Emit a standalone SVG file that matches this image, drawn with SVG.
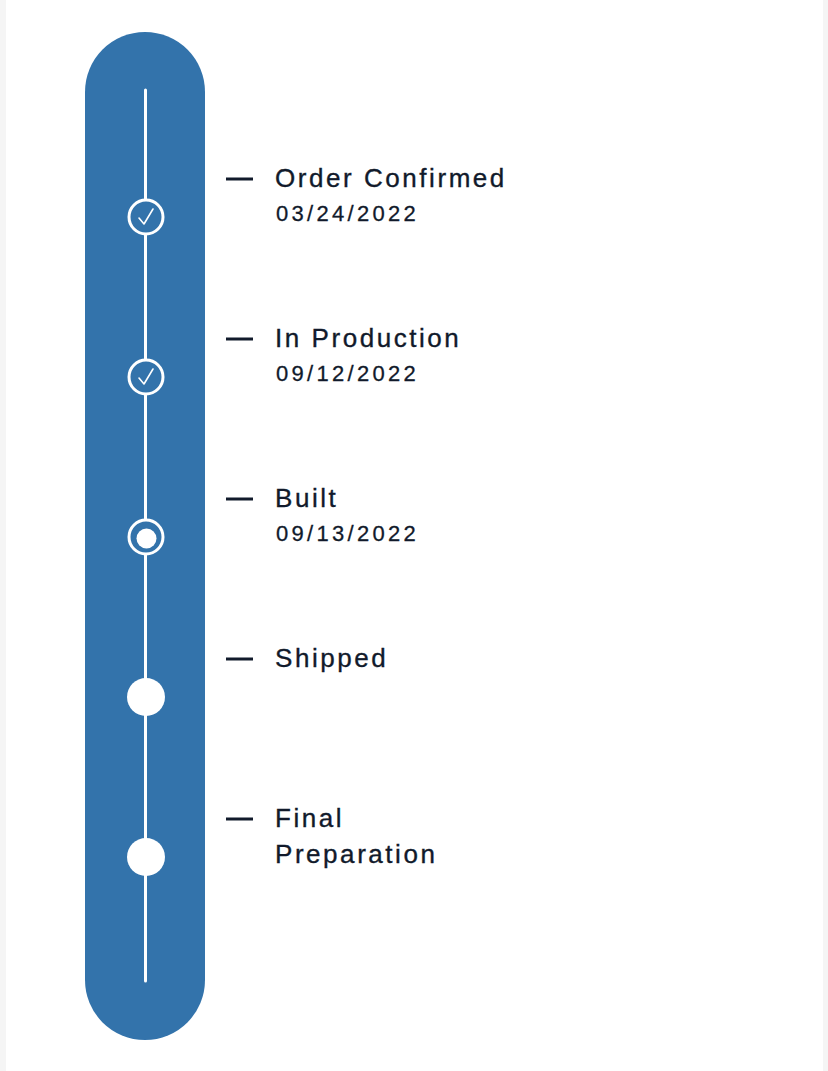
<svg xmlns="http://www.w3.org/2000/svg" width="828" height="1071" viewBox="0 0 828 1071">
<style>
.title{font-family:"Liberation Sans",Arial,sans-serif;font-size:26px;fill:#111a2b;stroke:#111a2b;stroke-width:0.35px;letter-spacing:2.55px}
.date{font-family:"Liberation Sans",Arial,sans-serif;font-size:22px;fill:#111a2b;stroke:#111a2b;stroke-width:0.3px;letter-spacing:3.3px}
.dash{stroke:#111a2b;stroke-width:3}
.ring{fill:#3373ab;stroke:#fff;stroke-width:3}
.dot{fill:#fff}
.check{fill:none;stroke:#fff;stroke-width:1.6;stroke-linecap:round;stroke-linejoin:round}
</style>
<rect x="0" y="0" width="828" height="1071" fill="#fff"/>
<rect x="0" y="0" width="6" height="1071" fill="#f5f5f5"/>
<rect x="823" y="0" width="5" height="1071" fill="#f5f5f5"/>
<g id="track">
<rect x="85" y="32" width="120" height="1008" rx="60" ry="60" fill="#3373ab"/>
</g>
<g id="connectors">
<line x1="145.5" y1="90" x2="145.5" y2="981" stroke="#fff" stroke-width="3" stroke-linecap="round"/>
</g>
<g id="step-order-confirmed">
<circle class="ring" cx="146" cy="217" r="17"/>
<path class="check" d="M139 218 L144 224 L153 209"/>
<line class="dash" x1="226" y1="179" x2="253" y2="179"/>
<text class="title" x="275" y="187">Order Confirmed</text>
<text class="date" x="276" y="221">03/24/2022</text>
</g>
<g id="step-in-production">
<circle class="ring" cx="146" cy="377" r="17"/>
<path class="check" d="M139 378 L144 384 L153 369"/>
<line class="dash" x1="226" y1="339" x2="253" y2="339"/>
<text class="title" x="275" y="347">In Production</text>
<text class="date" x="276" y="381">09/12/2022</text>
</g>
<g id="step-built">
<circle class="ring" cx="146" cy="537" r="17"/>
<circle class="dot" cx="146.5" cy="538.5" r="10"/>
<line class="dash" x1="226" y1="499" x2="253" y2="499"/>
<text class="title" x="275" y="507">Built</text>
<text class="date" x="276" y="541">09/13/2022</text>
</g>
<g id="step-shipped">
<circle class="dot" cx="146" cy="697" r="19"/>
<line class="dash" x1="226" y1="659" x2="253" y2="659"/>
<text class="title" x="275" y="667">Shipped</text>
</g>
<g id="step-final-preparation">
<circle class="dot" cx="146" cy="857" r="19"/>
<line class="dash" x1="226" y1="819" x2="253" y2="819"/>
<text class="title" x="275" y="827">Final</text>
<text class="title" x="275" y="863">Preparation</text>
</g>
</svg>
